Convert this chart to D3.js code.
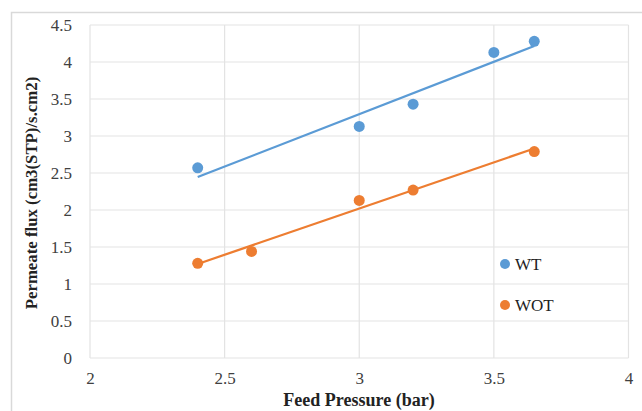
<!DOCTYPE html>
<html><head><meta charset="utf-8">
<script src="https://cdn.jsdelivr.net/npm/d3@7"></script>
<style>body{margin:0;background:#fff} text{font-family:'Liberation Serif','Times New Roman',serif}</style>
</head><body>
<svg id="c" width="642" height="411"></svg>
<script>
const wtX = [2.4, 3.0, 3.2, 3.5, 3.65];
const wtY = [2.57, 3.13, 3.43, 4.13, 4.28];
const wotX = [2.4, 2.6, 3.0, 3.2, 3.65];
const wotY = [1.28, 1.44, 2.13, 2.27, 2.79];
const xTicks = [2, 2.5, 3, 3.5, 4];
const yTicks = [0, 0.5, 1, 1.5, 2, 2.5, 3, 3.5, 4, 4.5];
const seriesNames = ["WT", "WOT"];
const colors = ["#5B9BD5", "#ED7D31"];

const svg = d3.select("#c");
const font = "'Liberation Serif','Times New Roman',serif";
svg.append("rect").attr("x", 11.5).attr("y", 12.5).attr("width", 640).attr("height", 410)
  .attr("fill", "#fff").attr("stroke", "#d9d9d9").attr("stroke-width", 1.5);

const x = d3.scaleLinear().domain([2, 4]).range([90, 628.5]);
const y = d3.scaleLinear().domain([0, 4.5]).range([358, 25]);

const g = svg.append("g");
g.selectAll(".gx").data(xTicks).join("line")
  .attr("x1", d => x(d)).attr("x2", d => x(d)).attr("y1", y(0)).attr("y2", y(4.5))
  .attr("stroke", "#e3e3e3").attr("stroke-width", 1.2);
g.selectAll(".gy").data(yTicks).join("line")
  .attr("y1", d => y(d)).attr("y2", d => y(d)).attr("x1", x(2)).attr("x2", x(4))
  .attr("stroke", "#e3e3e3").attr("stroke-width", 1.2);

const xAxis = d3.axisBottom(x).tickValues(xTicks).tickSize(0).tickPadding(14).tickFormat(d3.format("~g"));
const ax = svg.append("g").attr("transform", `translate(0,${y(0)})`).call(xAxis);
ax.attr("font-family", null).attr("font-size", null);
ax.select(".domain").remove();
ax.selectAll("text").style("font-family", font).style("font-size", "17px").attr("fill", "#404040");

const yAxis = d3.axisLeft(y).tickValues(yTicks).tickSize(0).tickPadding(18).tickFormat(d3.format("~g"));
const ay = svg.append("g").attr("transform", `translate(${x(2)},0)`).call(yAxis);
ay.attr("font-family", null).attr("font-size", null);
ay.select(".domain").remove();
ay.selectAll("text").style("font-family", font).style("font-size", "17px").attr("fill", "#404040");

function fit(xs, ys) {
  const n = xs.length, mx = d3.mean(xs), my = d3.mean(ys);
  let sxy = 0, sxx = 0;
  for (let i = 0; i < n; i++) { sxy += (xs[i]-mx)*(ys[i]-my); sxx += (xs[i]-mx)**2; }
  const b = sxy / sxx, a = my - b*mx;
  const x0 = d3.min(xs), x1 = d3.max(xs);
  return [[x0, a + b*x0], [x1, a + b*x1]];
}

const series = [[wtX, wtY], [wotX, wotY]];
series.forEach(([xs, ys], i) => {
  const line = d3.line().x(d => x(d[0])).y(d => y(d[1]));
  svg.append("path").attr("d", line(fit(xs, ys))).attr("stroke", colors[i])
    .attr("stroke-width", 2.25).attr("fill", "none");
  svg.append("g").selectAll("circle").data(xs.map((v, j) => [v, ys[j]])).join("circle")
    .attr("cx", d => x(d[0])).attr("cy", d => y(d[1])).attr("r", 5.5).attr("fill", colors[i]);
});

// legend
const legY = [264, 305];
seriesNames.forEach((name, i) => {
  svg.append("circle").attr("cx", 505).attr("cy", legY[i]).attr("r", 5).attr("fill", colors[i]);
  svg.append("text").attr("x", 515).attr("y", legY[i] + 6).text(name)
    .style("font-family", font).style("font-size", "17px").attr("fill", "#222");
});

svg.append("text").attr("x", 359).attr("y", 406).attr("text-anchor", "middle")
  .style("font-family", font).attr("font-weight", "bold").style("font-size", "18px").attr("fill", "#222")
  .text("Feed Pressure (bar)");
svg.append("text").attr("transform", "translate(37,193) rotate(-90)").attr("text-anchor", "middle")
  .style("font-family", font).attr("font-weight", "bold").style("font-size", "16.8px").attr("fill", "#222")
  .text("Permeate flux (cm3(STP)/s.cm2)");
</script>
</body></html>
